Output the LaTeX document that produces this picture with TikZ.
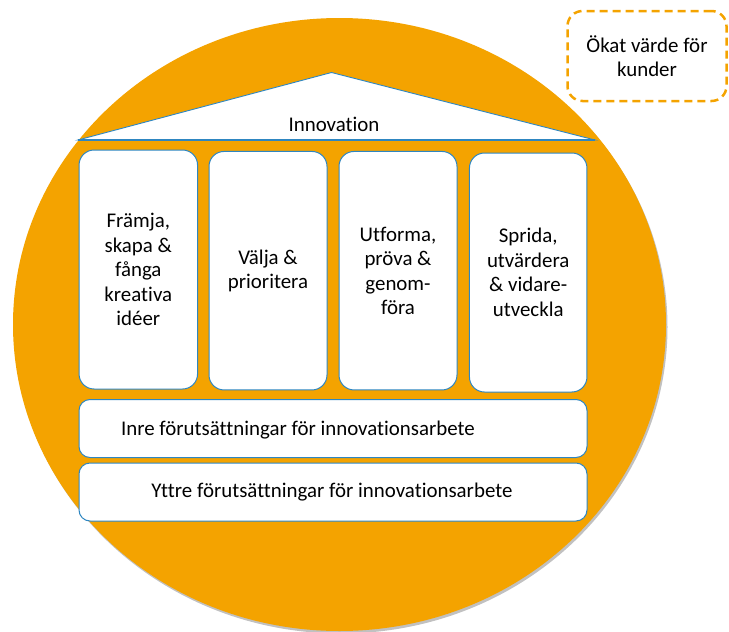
\documentclass[tikz,border=0pt]{standalone}
\usepackage{fontspec}
\setmainfont{Carlito}[Ligatures={NoCommon}]
\usetikzlibrary{shadows}
\definecolor{hOrange}{RGB}{244,163,0}
\definecolor{hBlue}{RGB}{46,134,193}
\tikzset{
  txt/.style={font=\fontsize{20.9}{24.5}\selectfont, text=black, align=center},
  pillar/.style={txt, draw=hBlue, line width=1pt, fill=white, rounded corners=15pt, inner sep=0pt},
  band/.style={draw=hBlue, line width=1pt, fill=white, rounded corners=11pt, inner sep=0pt, minimum width=508pt, minimum height=58pt},
  dashbox/.style={txt, draw=hOrange, line width=2.5pt, dash pattern=on 8pt off 5pt, rounded corners=15pt, minimum width=159pt, minimum height=90pt, inner sep=0pt},
}
\begin{document}
\begin{tikzpicture}[x=1pt,y=-1pt]
\useasboundingbox (0,0) rectangle (729,632);
% big ellipse
\fill[hOrange, drop shadow={shadow xshift=1.5pt, shadow yshift=-2.5pt, opacity=0.35, fill=black!70}]
  (339.5,324.5) ellipse [x radius=326.5, y radius=306.5];
% roof
\coordinate (apex) at (331.5,72.5);
\coordinate (rl) at (78,140);
\coordinate (rr) at (595,140);
\filldraw[fill=white, draw=hBlue, line width=0.9pt, line join=miter] (rl) -- (apex) -- (rr) -- cycle;
\draw[hBlue, line width=1.4pt] (rl) -- (rr);
\node[txt] (innov) at (334,124) {Innovation};
% pillars
\node[pillar, minimum width=118.5pt, minimum height=239pt] (p1) at (138.3,269.5)
  {Främja,\\skapa \&\\fånga\\kreativa\\idéer};
\node[pillar, minimum width=118pt, minimum height=238.5pt] (p2) at (268,270.7)
  {Välja \&\\prioritera};
\node[pillar, minimum width=118pt, minimum height=238.5pt] (p3) at (398,270.7)
  {Utforma,\\pröva \&\\genom-\\föra};
\node[pillar, minimum width=117.5pt, minimum height=239pt] (p4) at (528.2,272.5)
  {Sprida,\\utvärdera\\\& vidare-\\utveckla};
% bands
\node[band] (inre) at (333,428.5) {};
\node[txt] (inreT) at (298,430) {Inre förutsättningar för innovationsarbete};
\node[band] (yttre) at (333,492) {};
\node[txt] (yttreT) at (332,492.5) {Yttre förutsättningar för innovationsarbete};
% dashed box
\node[dashbox] (okat) at (647,56) {Ökat värde för\\kunder};
\end{tikzpicture}
\end{document}
